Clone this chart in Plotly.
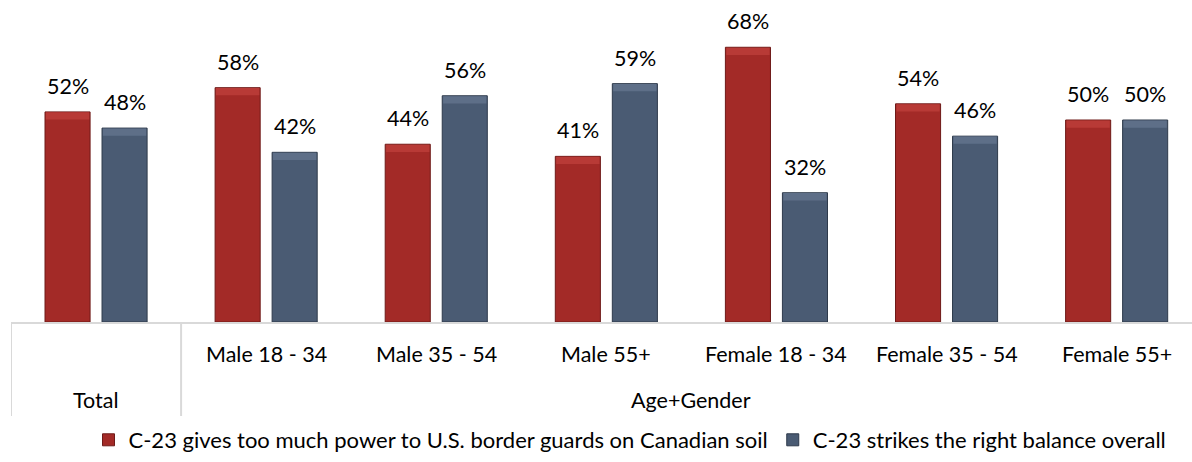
import numpy as np
import plotly.graph_objects as go

groups = ["Total", "Male 18 - 34", "Male 35 - 54", "Male 55+",
          "Female 18 - 34", "Female 35 - 54", "Female 55+"]
too_much = [52, 58, 44, 41, 68, 54, 50]
balance = [48, 42, 56, 59, 32, 46, 50]
series_names = ["C-23 gives too much power to U.S. border guards on Canadian soil",
                "C-23 strikes the right balance overall"]
top_level = ["Total", "Age+Gender"]

RED = "#A32A27"
BLUE = "#4A5B73"
FONT = "Lato"
LBL = 21.5

idx = np.arange(len(groups))
off = 0.1676
bw = 0.265
H = 322  # plot area height in px

fig = go.Figure()

for vals, name, color, dark, light, sign in [
    (too_much, series_names[0], RED, "#6E1A18", "#B83A36", -1),
    (balance, series_names[1], BLUE, "#2E3A4B", "#5E6F88", 1),
]:
    xs = idx + sign * off
    fig.add_trace(go.Bar(x=xs, y=vals, width=bw, name=name,
                         marker=dict(color=color, line=dict(color=dark, width=1))))
    # bevel-ish highlight at the top of each bar
    fig.add_trace(go.Bar(x=xs, y=[1.8] * len(vals), base=[v - 1.9 for v in vals],
                         width=bw * 0.96, marker=dict(color=light, line=dict(width=0)),
                         showlegend=False, hoverinfo="skip"))
    for x, v in zip(xs, vals):
        fig.add_annotation(x=x, y=v, text=f"{v}%", showarrow=False,
                           yanchor="bottom", yshift=11,
                           font=dict(size=LBL, color="#000000", family=FONT))

# two-level category axis drawn as a table
for i, g in enumerate(groups):
    if i == 0:
        continue
    fig.add_annotation(x=i, y=-32 / H, yref="paper", text=g, showarrow=False,
                       xanchor="center", yanchor="middle",
                       font=dict(size=LBL, color="#000000", family=FONT))
fig.add_annotation(x=0, y=-78 / H, yref="paper", text=top_level[0], showarrow=False,
                   xanchor="center", yanchor="middle",
                   font=dict(size=LBL, color="#000000", family=FONT))
fig.add_annotation(x=3.5, y=-78 / H, yref="paper", text=top_level[1], showarrow=False,
                   xanchor="center", yanchor="middle",
                   font=dict(size=LBL, color="#000000", family=FONT))

for xv in [-0.5, 0.5]:
    fig.add_shape(type="line", x0=xv, x1=xv, y0=0, y1=-94 / H, yref="paper",
                  line=dict(color="#D9D9D9", width=2), layer="below")

fig.update_layout(
    width=1192, height=462,
    margin=dict(l=11, r=0, t=0, b=140),
    paper_bgcolor="white", plot_bgcolor="white",
    barmode="overlay",
    font=dict(family=FONT, size=18, color="#000000"),
    showlegend=True,
    legend=dict(orientation="h", x=(630 - 11) / 1181, xanchor="center",
                y=-(440 - 322) / H, yanchor="middle",
                font=dict(size=22, family=FONT),
                itemwidth=30, traceorder="normal"),
    xaxis=dict(range=[-0.5, -0.5 + 1181 / 170.1], showticklabels=False,
               showgrid=False, zeroline=False, showline=True,
               linecolor="#D9D9D9", linewidth=2, ticks="", fixedrange=True),
    yaxis=dict(range=[0, H / 4.04], visible=False, fixedrange=True),
)

fig.write_html("out.html", config={"displayModeBar": False},
               post_script="document.body.style.margin='0';")
